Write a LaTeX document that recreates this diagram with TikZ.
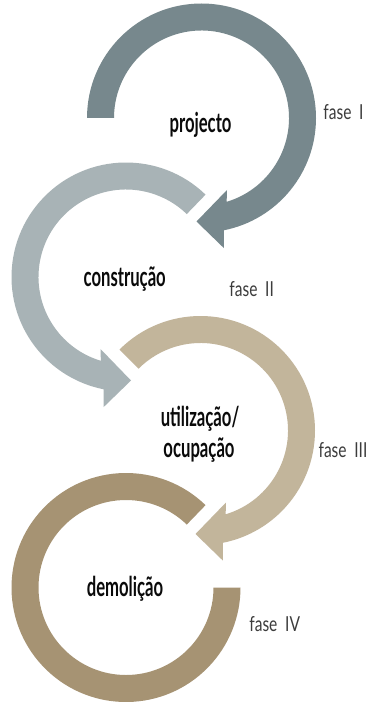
\documentclass[tikz,border=0pt]{standalone}
\usepackage{fontspec}
\setmainfont{Lato}
\definecolor{cOne}{HTML}{77888D}
\definecolor{cTwo}{HTML}{A8B3B6}
\definecolor{cThree}{HTML}{C2B59B}
\definecolor{cFour}{HTML}{A69373}
\definecolor{faseText}{HTML}{3C3C3C}
\definecolor{mainText}{HTML}{0A0A0A}
\newcommand{\mainlbl}[1]{\scalebox{0.61}[1]{\fontsize{20.5}{22}\selectfont\bfseries #1}}
\newcommand{\faselbl}[1]{\scalebox{0.75}[1]{\fontsize{15.5}{18}\selectfont #1}}
\tikzset{
  mainlabel/.style={anchor=base, inner sep=0pt, text=mainText},
  faselabel/.style={anchor=base, inner sep=0pt, text=faseText},
}
% ring arrow with head, in local frame: start angle #1
\newcommand{\headarrow}[2]{%
  \path[fill=#2] (#1:114.5) arc[start angle=#1, end angle=438.7, radius=114.5]
    -- (22.3,130) -- (-5,103.5) -- (25.5,72) -- (433.3:87.5)
    arc[start angle=433.3, end angle=#1, radius=87.5] -- cycle;}
\begin{document}
\begin{tikzpicture}[x=0.75pt, y=-0.75pt]
\fill[white] (0,0) rectangle (374,702);
\useasboundingbox (0,0) rectangle (374,702);
% fase I
\begin{scope}[shift={(201.5,118)}]
  \headarrow{180}{cOne}
\end{scope}
% fase II
\begin{scope}[shift={(126,277)}, xscale=-1]
  \headarrow{226}{cTwo}
\end{scope}
% fase III
\begin{scope}[shift={(200.5,430.5)}]
  \headarrow{225}{cThree}
\end{scope}
% fase IV
\begin{scope}[shift={(126,587.5)}, xscale=-1]
  \path[fill=cFour] (226:114.5) arc[start angle=226, end angle=540, radius=114.5]
    -- (540:87.5) arc[start angle=540, end angle=226, radius=87.5] -- cycle;
\end{scope}
% labels
\node[mainlabel] (l1) at (200.5,132.3) {\mainlbl{projecto}};
\node[faselabel] (f1) at (343.5,120) {\faselbl{fase\enspace I}};
\node[mainlabel] (l2) at (124.7,286) {\mainlbl{construção}};
\node[faselabel] (f2) at (251.7,296) {\faselbl{fase\enspace II}};
\node[mainlabel] (l3a) at (200,426.7) {\mainlbl{utilização/}};
\node[mainlabel] (l3b) at (199,457) {\mainlbl{ocupação}};
\node[faselabel] (f3) at (343,457) {\faselbl{fase\enspace III}};
\node[mainlabel] (l4) at (125,596.7) {\mainlbl{demolição}};
\node[faselabel] (f4) at (274.7,631.7) {\faselbl{fase\enspace IV}};
\end{tikzpicture}
\end{document}
